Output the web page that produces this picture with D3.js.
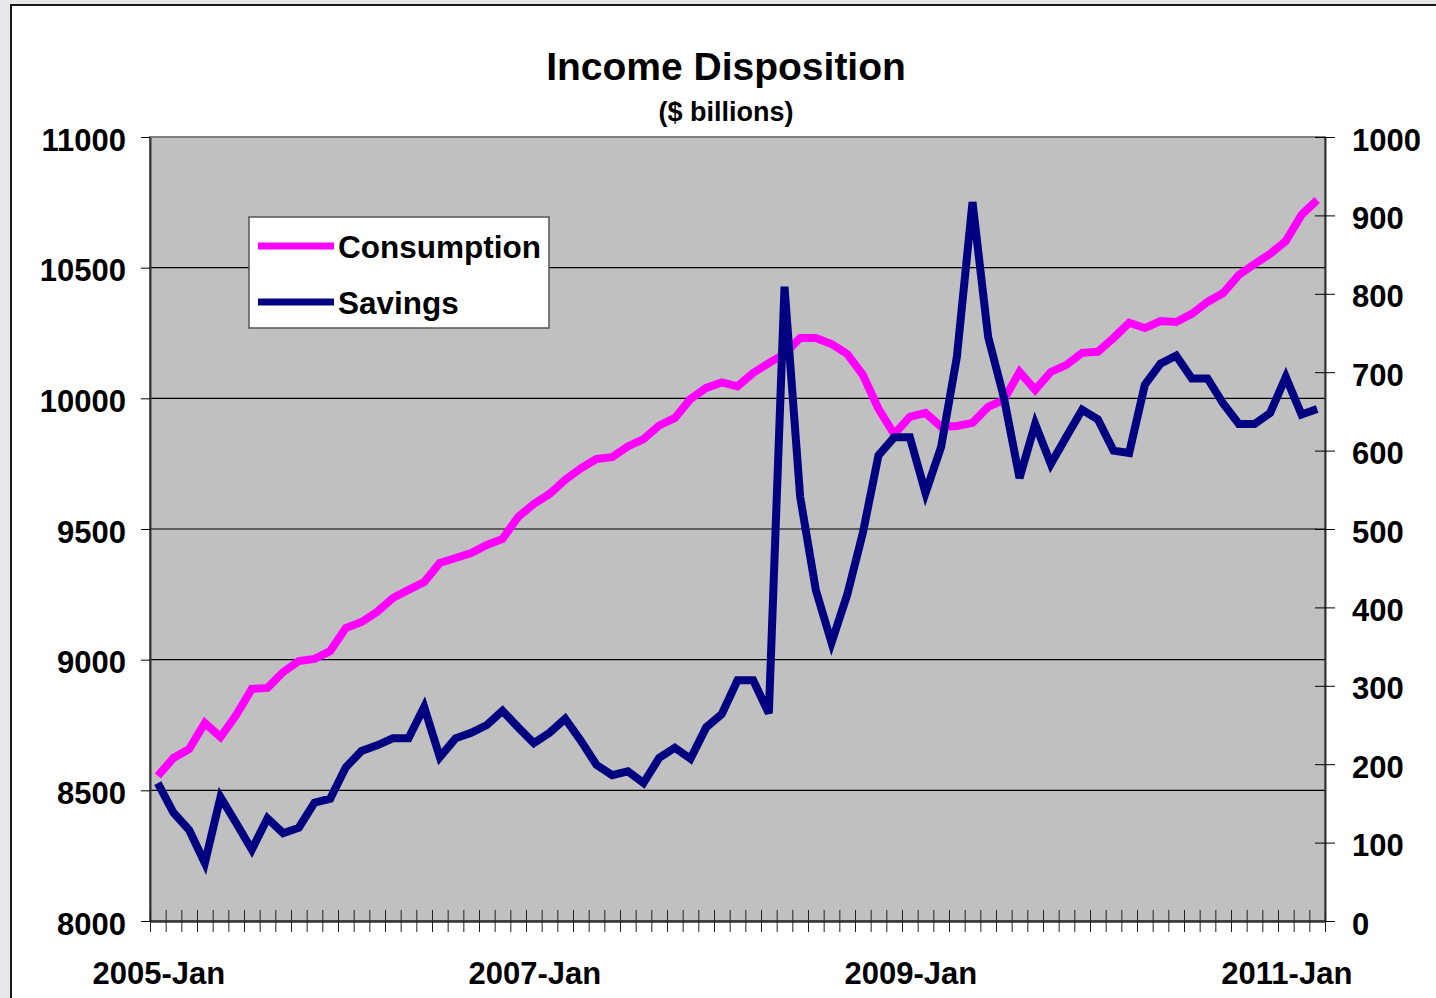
<!DOCTYPE html>
<html>
<head>
<meta charset="utf-8">
<script src="https://cdn.jsdelivr.net/npm/d3@7"></script>
<style>
  body { margin: 0; background: #e8e8ec; }
  svg { display: block; font-family: "Liberation Sans", Arial, sans-serif; font-weight: bold; }
</style>
</head>
<body>
<svg id="chart"></svg>
<script>
const monthNames = ['Jan', 'Feb', 'Mar', 'Apr', 'May', 'Jun', 'Jul', 'Aug', 'Sep', 'Oct', 'Nov', 'Dec'];
// monthly categories, 2005-Jan .. 2011-Mar
const categories = d3.range(75).map(i => `${2005 + Math.floor(i / 12)}-${monthNames[i % 12]}`);
const xLabels = ['2005-Jan', '2007-Jan', '2009-Jan', '2011-Jan'];

const consumption = [
  8555, 8624, 8658, 8758, 8704, 8788, 8888, 8892, 8953, 8995,
  9003, 9033, 9121, 9144, 9183, 9236, 9267, 9297, 9370, 9389,
  9408, 9439, 9462, 9546, 9596, 9634, 9688, 9732, 9768, 9775,
  9816, 9844, 9896, 9925, 9998, 10040, 10061, 10046, 10097, 10135,
  10170, 10231, 10231, 10208, 10170, 10090, 9960, 9863, 9929, 9944,
  9891, 9894, 9906, 9967, 9994, 10101, 10032, 10101, 10128, 10174,
  10178, 10231, 10289, 10269, 10296, 10292, 10323, 10369, 10403, 10472,
  10514, 10553, 10602, 10702, 10759
];

const savings = [
  176, 138, 116, 74, 158, 125, 91, 131, 112, 119,
  151, 156, 196, 217, 224, 233, 233, 273, 209, 233,
  240, 250, 268, 247, 227, 240, 258, 230, 199, 186,
  191, 176, 208, 221, 207, 247, 264, 307, 307, 265,
  809, 541, 422, 355, 416, 495, 594, 617, 617, 546,
  605, 719, 917, 745, 668, 565, 634, 583, 618, 652,
  640, 600, 597, 684, 711, 721, 692, 692, 660, 634,
  634, 648, 694, 646, 653
];

const leftTicks = d3.range(8000, 11001, 500);
const rightTicks = d3.range(0, 1001, 100);

const W = 1436, H = 998;
const plot = {left: 150, right: 1325, top: 137, bottom: 921};

const x = d3.scaleBand().domain(categories).range([plot.left, plot.right]);
const xEdge = d3.scaleLinear().domain([0, categories.length]).range([plot.left, plot.right]);
const yL = d3.scaleLinear().domain([8000, 11000]).range([plot.bottom, plot.top]);
const yR = d3.scaleLinear().domain([0, 1000]).range([plot.bottom, plot.top]);

const cx = d => x(d) + x.bandwidth() / 2;

const svg = d3.select('#chart').attr('width', W).attr('height', H);

// chart frame
svg.append('rect')
  .attr('x', 11).attr('y', 5)
  .attr('width', W).attr('height', H)
  .attr('fill', '#fff')
  .attr('stroke', '#1a1a1a')
  .attr('stroke-width', 2);

// plot area
svg.append('rect')
  .attr('x', plot.left).attr('y', plot.top)
  .attr('width', plot.right - plot.left)
  .attr('height', plot.bottom - plot.top)
  .attr('fill', '#c0c0c0')
  .attr('stroke', '#808080')
  .attr('stroke-width', 2);

// gridlines
svg.append('g')
  .selectAll('line')
  .data(leftTicks.slice(1, -1))
  .join('line')
  .attr('x1', plot.left).attr('x2', plot.right)
  .attr('y1', d => yL(d)).attr('y2', d => yL(d))
  .attr('stroke', '#000')
  .attr('stroke-width', 1.2);

// left axis
svg.append('g')
  .attr('transform', `translate(${plot.left},0)`)
  .call(d3.axisLeft(yL).tickValues(leftTicks).tickFormat(d3.format('d'))
    .tickSize(9).tickSizeOuter(0).tickPadding(15))
  .call(g => g.select('.domain').attr('stroke', '#333').attr('stroke-width', 2))
  .call(g => g.selectAll('.tick line').attr('stroke', '#000'))
  .call(g => g.selectAll('text')
    .attr('dy', '0.42em')
    .attr('font-size', 31)
    .attr('font-family', null)
    .attr('fill', '#000'));

// right axis
svg.append('g')
  .attr('transform', `translate(${plot.right},0)`)
  .call(d3.axisRight(yR).tickValues(rightTicks).tickFormat(d3.format('d'))
    .tickSize(10).tickSizeOuter(0).tickPadding(17))
  .call(g => g.select('.domain').attr('stroke', '#333').attr('stroke-width', 2))
  .call(g => g.selectAll('.tick line').attr('x1', -10).attr('stroke', '#000'))
  .call(g => g.selectAll('text')
    .attr('dy', '0.42em')
    .attr('font-size', 31)
    .attr('font-family', null)
    .attr('fill', '#000'));

// bottom axis: ticks on month boundaries, crossing the axis line
svg.append('g')
  .attr('transform', `translate(0,${plot.bottom})`)
  .call(d3.axisBottom(xEdge).tickValues(d3.range(categories.length + 1)).tickSize(11).tickSizeOuter(0).tickFormat(''))
  .call(g => g.select('.domain').attr('stroke', '#333').attr('stroke-width', 2.5))
  .call(g => g.selectAll('.tick line').attr('y1', -11).attr('stroke', '#222'));

svg.append('g')
  .selectAll('text')
  .data(xLabels)
  .join('text')
  .attr('x', d => cx(d) + 1)
  .attr('y', 984)
  .attr('text-anchor', 'middle')
  .attr('font-size', 31)
  .text(d => d);

// series
const lineC = d3.line()
  .x((d, i) => cx(categories[i]))
  .y(d => yL(d));

const lineS = d3.line()
  .x((d, i) => cx(categories[i]))
  .y(d => yR(d));

svg.append('path')
  .datum(consumption)
  .attr('d', lineC)
  .attr('fill', 'none')
  .attr('stroke', '#ff00ff')
  .attr('stroke-width', 8)
  .attr('stroke-linejoin', 'miter');

svg.append('path')
  .datum(savings)
  .attr('d', lineS)
  .attr('fill', 'none')
  .attr('stroke', '#000080')
  .attr('stroke-width', 8)
  .attr('stroke-linejoin', 'miter');

// title
svg.append('text')
  .attr('x', 726).attr('y', 80)
  .attr('text-anchor', 'middle')
  .attr('font-size', 39)
  .text('Income Disposition');

svg.append('text')
  .attr('x', 726).attr('y', 121)
  .attr('text-anchor', 'middle')
  .attr('font-size', 27)
  .text('($ billions)');

// legend
const legend = svg.append('g').attr('transform', 'translate(249,217)');
legend.append('rect')
  .attr('width', 300).attr('height', 111)
  .attr('fill', '#fff')
  .attr('stroke', '#555')
  .attr('stroke-width', 1.5);

const legendItems = [
  {name: 'Consumption', color: '#ff00ff'},
  {name: 'Savings', color: '#000080'}
];

const item = legend.selectAll('g')
  .data(legendItems)
  .join('g')
  .attr('transform', (d, i) => `translate(0,${29 + i * 56})`);

item.append('line')
  .attr('x1', 9).attr('x2', 85)
  .attr('stroke', d => d.color)
  .attr('stroke-width', 7);

item.append('text')
  .attr('x', 89).attr('y', 12)
  .attr('font-size', 31.5)
  .text(d => d.name);
</script>
</body>
</html>
